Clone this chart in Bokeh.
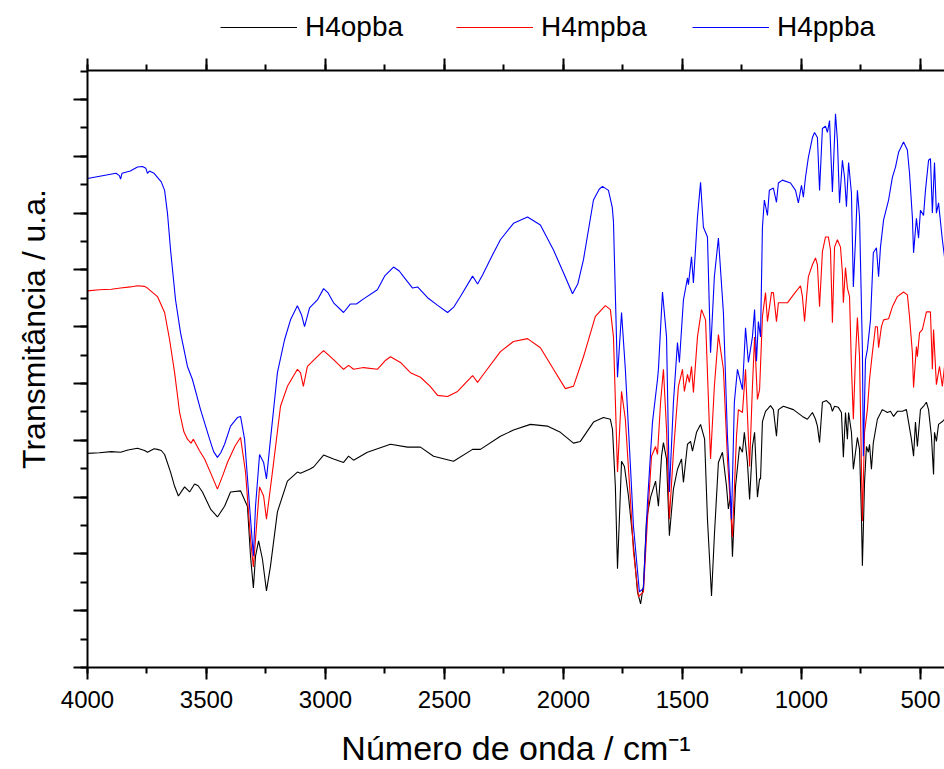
from bokeh.plotting import figure
from bokeh.layouts import column
from bokeh.models import (Range1d, LinearAxis, SingleIntervalTicker, Legend,
                          LegendItem, CustomJSTickFormatter)
from bokeh.embed import file_html
from bokeh.resources import INLINE

# ---------------- data ----------------
series_names = ["H4opba", "H4mpba", "H4ppba"]
series_colors = ["#000000", "#ff0000", "#0000ff"]

x_ticks_step = 500
x_title = "Número de onda / cm\u207b\u00b9"
y_title = "Transmitância / u.a."

opba_wn = [4000, 3950, 3900, 3861, 3830, 3790, 3760, 3748, 3720, 3706, 3690, 3676, 3651, 3634,
           3618, 3605, 3592, 3571, 3550, 3535, 3517, 3483, 3454, 3424, 3399, 3357, 3328, 3315,
           3303, 3294, 3281, 3265, 3248, 3231, 3202, 3160, 3118, 3105, 3067, 3050, 3008, 2966,
           2924, 2903, 2882, 2824, 2727, 2655, 2601, 2546, 2462, 2382, 2349, 2265, 2210, 2139,
           2068, 2013, 1958, 1929, 1874, 1832, 1803, 1794, 1782, 1773, 1756, 1744, 1727, 1710,
           1702, 1689, 1676, 1664, 1651, 1634, 1613, 1601, 1588, 1580, 1567, 1555, 1538, 1521,
           1504, 1496, 1479, 1466, 1458, 1441, 1424, 1407, 1395, 1378, 1366, 1349, 1332, 1315,
           1307, 1298, 1290, 1277, 1260, 1248, 1240, 1227, 1218, 1206, 1197, 1185, 1176, 1172,
           1164, 1151, 1130, 1118, 1105, 1097, 1076, 1034, 996, 975, 954, 941, 933, 924, 912,
           895, 878, 870, 861, 845, 832, 824, 815, 807, 802, 790, 782, 765, 756, 748, 744, 735,
           727, 719, 714, 706, 698, 681, 660, 639, 626, 613, 597, 576, 559, 550, 538, 529, 521,
           513, 500, 487, 475, 466, 454, 445, 441, 433, 424, 408, 399]
opba_t = [3.77, 3.78, 3.80, 3.79, 3.83, 3.86, 3.82, 3.79, 3.85, 3.84, 3.82, 3.75, 3.44, 3.19,
          3.02, 3.10, 3.18, 3.09, 3.23, 3.20, 3.09, 2.79, 2.65, 2.84, 3.09, 3.11, 2.84, 1.96,
          1.40, 1.96, 2.23, 1.91, 1.35, 1.79, 2.74, 3.28, 3.44, 3.42, 3.49, 3.53, 3.74, 3.67,
          3.61, 3.72, 3.65, 3.79, 3.93, 3.88, 3.88, 3.72, 3.63, 3.84, 3.84, 4.07, 4.18, 4.28,
          4.25, 4.14, 3.95, 3.98, 4.32, 4.40, 4.37, 4.19, 3.19, 1.74, 3.63, 3.54, 3.02, 2.32,
          1.96, 1.33, 1.12, 1.44, 2.61, 3.00, 3.28, 2.84, 3.72, 3.96, 3.67, 2.32, 3.14, 3.49,
          3.67, 3.26, 3.93, 3.98, 3.81, 4.14, 4.28, 4.02, 2.61, 1.26, 2.32, 3.61, 3.79, 3.19,
          2.79, 3.02, 1.95, 3.19, 3.89, 3.79, 4.14, 3.61, 2.96, 3.89, 4.14, 3.00, 3.32, 3.32,
          4.33, 4.51, 4.61, 4.54, 4.07, 4.54, 4.60, 4.54, 4.42, 4.37, 4.49, 4.37, 4.25, 3.96, 4.67,
          4.70, 4.63, 4.51, 4.60, 4.58, 4.49, 3.70, 4.49, 4.02, 4.49, 4.14, 3.49, 4.05, 3.84, 2.67, 1.79, 3.26,
          3.89, 3.79, 3.93, 3.49, 3.96, 4.37, 4.54, 4.49, 4.51, 4.42, 4.51, 4.51, 4.54, 4.32, 4.02, 3.72, 4.32,
          3.89, 4.54, 4.60, 4.67, 4.54, 4.07, 3.40, 4.14, 3.98, 4.28, 4.33, 4.37]

mpba_wn = [4000, 3950, 3900, 3861, 3820, 3790, 3760, 3748, 3706, 3676, 3655, 3634, 3613, 3595,
           3580, 3565, 3555, 3530, 3508, 3480, 3454, 3430, 3412, 3380, 3357, 3336, 3315, 3303,
           3294, 3277, 3260, 3248, 3223, 3189, 3160, 3118, 3105, 3093, 3076, 3040, 3008, 2966,
           2924, 2903, 2882, 2840, 2782, 2750, 2727, 2685, 2643, 2601, 2560, 2529, 2487, 2445,
           2382, 2361, 2340, 2265, 2210, 2151, 2097, 2042, 1992, 1958, 1916, 1866, 1824, 1803,
           1790, 1773, 1756, 1740, 1718, 1706, 1685, 1664, 1647, 1630, 1613, 1605, 1592, 1580,
           1567, 1555, 1538, 1517, 1500, 1492, 1479, 1471, 1462, 1454, 1437, 1420, 1403, 1382,
           1366, 1349, 1328, 1311, 1290, 1273, 1265, 1248, 1235, 1218, 1206, 1197, 1185, 1176,
           1164, 1151, 1143, 1126, 1118, 1105, 1097, 1059, 1034, 1004, 996, 987, 979, 971, 954,
           941, 933, 924, 912, 899, 887, 878, 870, 861, 849, 836, 828, 824, 815, 807, 798, 790,
           782, 773, 765, 756, 748, 744, 735, 723, 714, 702, 689, 681, 676, 664, 655, 634, 618,
           597, 571, 555, 546, 534, 529, 517, 513, 504, 492, 475, 458, 450, 445, 433, 420, 408, 399]
mpba_t = [6.63, 6.65, 6.66, 6.68, 6.70, 6.72, 6.71, 6.68, 6.53, 6.25, 5.77, 5.19, 4.49, 4.15,
          4.02, 3.95, 4.02, 3.82, 3.67, 3.40, 3.14, 3.40, 3.61, 3.90, 4.05, 3.44, 2.26, 1.77,
          2.26, 3.18, 3.02, 2.61, 3.44, 4.60, 4.95, 5.25, 5.19, 4.95, 5.30, 5.45, 5.58, 5.42,
          5.25, 5.32, 5.25, 5.28, 5.25, 5.40, 5.47, 5.37, 5.19, 5.11, 4.95, 4.79, 4.77, 4.86,
          5.14, 5.02, 5.14, 5.56, 5.74, 5.79, 5.63, 5.25, 4.91, 4.95, 5.47, 6.18, 6.37, 6.30,
          5.82, 3.44, 4.86, 4.37, 2.91, 2.04, 1.25, 1.33, 2.61, 3.72, 3.89, 3.75, 4.67, 5.25,
          4.19, 2.61, 3.79, 4.95, 5.25, 4.86, 5.16, 5.02, 5.30, 4.84, 5.82, 6.30, 6.12, 3.67,
          4.95, 5.86, 5.25, 3.67, 2.30, 4.07, 4.54, 4.49, 5.25, 3.54, 4.95, 5.82, 4.72, 4.89,
          6.18, 6.60, 6.09, 6.60, 6.60, 6.09, 6.42, 6.42, 6.56, 6.72, 6.53, 6.09, 6.51, 6.88, 7.09,
          7.21, 7.09, 6.35, 7.32, 7.58, 7.58, 7.35, 6.07, 7.40, 7.53, 7.40, 6.95, 6.42, 7.04, 6.68, 6.53, 5.30,
          4.37, 5.47, 6.16, 5.47, 3.54, 2.58, 4.14, 4.54, 5.07, 5.54, 6.00, 6.00, 5.63, 6.00, 6.12, 6.14, 6.35,
          6.53, 6.61, 6.56, 6.18, 5.54, 4.93, 5.65, 5.47, 5.89, 5.95, 6.26, 6.26, 5.25, 5.95, 4.98, 5.30, 4.95, 5.30]

ppba_wn = [4000, 3960, 3920, 3880, 3866, 3861, 3855, 3820, 3790, 3769, 3755, 3748, 3740, 3720,
           3706, 3690, 3676, 3664, 3651, 3630, 3609, 3580, 3559, 3525, 3487, 3470, 3454, 3440,
           3424, 3399, 3370, 3357, 3340, 3319, 3303, 3294, 3277, 3260, 3248, 3231, 3202, 3172,
           3147, 3118, 3100, 3088, 3067, 3034, 3008, 2990, 2966, 2924, 2895, 2870, 2840, 2782,
           2750, 2714, 2690, 2672, 2634, 2613, 2571, 2530, 2487, 2460, 2433, 2382, 2361, 2340,
           2300, 2265, 2210, 2151, 2097, 2042, 2000, 1962, 1940, 1916, 1874, 1850, 1836, 1811,
           1795, 1790, 1773, 1756, 1740, 1718, 1706, 1681, 1664, 1647, 1626, 1605, 1601, 1584,
           1567, 1555, 1538, 1521, 1513, 1496, 1479, 1475, 1462, 1454, 1437, 1424, 1412, 1395,
           1382, 1366, 1349, 1328, 1311, 1294, 1282, 1269, 1248, 1235, 1223, 1206, 1197, 1189,
           1181, 1172, 1164, 1156, 1143, 1135, 1118, 1105, 1097, 1080, 1046, 1025, 1013, 1000,
           992, 983, 971, 954, 945, 933, 924, 912, 899, 891, 882, 870, 857, 849, 840, 828, 819,
           811, 802, 790, 782, 773, 765, 756, 744, 740, 731, 723, 710, 698, 685, 676, 668, 655,
           634, 618, 605, 592, 571, 555, 546, 534, 529, 517, 508, 500, 487, 479, 466, 458, 450,
           441, 433, 424, 408, 399]
ppba_t = [8.61, 8.64, 8.67, 8.70, 8.66, 8.60, 8.70, 8.74, 8.81, 8.82, 8.79, 8.70, 8.74, 8.70,
          8.63, 8.55, 8.40, 8.00, 7.35, 6.47, 5.89, 5.30, 5.07, 4.54, 4.02, 3.80, 3.70, 3.78,
          3.93, 4.25, 4.40, 4.42, 4.02, 2.84, 1.96, 2.84, 3.75, 3.61, 3.32, 4.02, 5.19, 5.77,
          6.12, 6.37, 6.20, 6.00, 6.33, 6.47, 6.67, 6.60, 6.42, 6.25, 6.40, 6.40, 6.49, 6.65,
          6.90, 7.05, 6.98, 6.88, 6.68, 6.70, 6.51, 6.38, 6.25, 6.35, 6.53, 6.89, 6.75, 6.91,
          7.25, 7.53, 7.82, 7.93, 7.79, 7.35, 6.95, 6.58, 6.75, 7.18, 8.23, 8.42, 8.47, 8.40,
          8.10, 7.85, 5.11, 6.25, 5.25, 3.49, 2.49, 1.33, 1.39, 2.91, 4.32, 5.07, 5.25, 6.61,
          5.82, 3.09, 4.67, 5.72, 5.37, 6.47, 6.86, 6.74, 7.23, 6.77, 7.93, 8.54, 7.75, 7.58,
          5.54, 6.88, 7.56, 6.25, 4.07, 2.61, 4.67, 5.25, 4.89, 5.98, 5.37, 5.82, 6.30, 5.39,
          6.09, 5.82, 7.75, 8.23, 7.96, 8.40, 8.44, 8.19, 8.53, 8.58, 8.53, 8.40, 8.18, 8.49,
          8.28, 8.63, 8.98, 9.33, 9.42, 9.33, 8.40, 9.49, 9.53, 9.42, 9.63, 8.37, 9.75, 9.28, 8.18, 8.93, 8.63,
          8.11, 8.89, 8.35, 6.70, 7.53, 8.40, 7.93, 5.60, 3.72, 5.42, 5.60, 6.12, 7.30, 7.39, 6.88, 7.40, 7.88,
          8.23, 8.63, 8.81, 9.07, 9.25, 9.11, 8.70, 7.93, 7.30, 7.91, 7.56, 8.05, 7.96, 8.40, 8.93, 8.96, 8.00,
          8.89, 8.00, 8.18, 7.53, 7.23]

series_wn = [opba_wn, mpba_wn, ppba_wn]
series_t = [opba_t, mpba_t, ppba_t]

# ---------------- layout ----------------
FONT = "Liberation Sans"
W, H = 944, 769
LEG_H = 45                      # strip above the plot that holds the legend

# legend strip: a figure of its own (its frame is aligned with the main plot's frame);
# it holds the same series, out of its visible range, only to key the legend
lf = figure(width=W, height=LEG_H, x_range=Range1d(0, 1), y_range=Range1d(0, 1),
            output_backend="svg", toolbar_location=None, title=None,
            x_axis_location=None, y_axis_location=None,
            min_border_left=0, min_border_right=0, min_border_top=0, min_border_bottom=0)
lf.xgrid.visible = False
lf.ygrid.visible = False
lf.outline_line_color = None
leg_renderers = [lf.line(wn, t, line_color=c, line_width=1.1)
                 for wn, t, c in zip(series_wn, series_t, series_colors)]
legend = Legend(items=[LegendItem(label=n, renderers=[r]) for n, r in zip(series_names, leg_renderers)],
                orientation="horizontal", location=(133, 2),
                label_text_font=FONT, label_text_font_size="28px", label_text_color="black",
                glyph_width=77, glyph_height=20, label_standoff=8, label_width=113, spacing=38,
                padding=0, margin=0, border_line_color=None, background_fill_alpha=0)
lf.add_layout(legend, "center")

# main plot
p = figure(width=W, height=H - LEG_H, x_range=Range1d(4000, 399), y_range=Range1d(0, 10.51),
           output_backend="svg", toolbar_location=None, title=None,
           x_axis_location=None, y_axis_location=None,
           min_border_left=87, min_border_right=0, min_border_top=70 - LEG_H, min_border_bottom=100)
p.xgrid.visible = False
p.ygrid.visible = False
p.outline_line_color = None
p.background_fill_color = "white"
p.border_fill_color = "white"


def style_axis(ax, out_major, out_minor):
    ax.axis_line_width = 2
    ax.axis_line_color = "black"
    ax.major_tick_line_width = 2
    ax.minor_tick_line_width = 2
    ax.major_tick_line_color = "black"
    ax.minor_tick_line_color = "black"
    ax.major_tick_in = 0
    ax.minor_tick_in = 0
    ax.major_tick_out = out_major
    ax.minor_tick_out = out_minor


bottom = LinearAxis(ticker=SingleIntervalTicker(interval=x_ticks_step, num_minor_ticks=2))
style_axis(bottom, 12, 6)
bottom.major_label_text_font = FONT
bottom.major_label_text_font_size = "24px"
bottom.major_label_text_color = "black"
bottom.major_label_standoff = 11
bottom.axis_label = x_title
bottom.axis_label_text_font = FONT
bottom.axis_label_text_font_size = "34px"
bottom.axis_label_text_font_style = "normal"
bottom.axis_label_text_color = "black"
bottom.axis_label_standoff = 18
p.add_layout(bottom, "below")

top = LinearAxis(ticker=SingleIntervalTicker(interval=x_ticks_step, num_minor_ticks=2),
                 formatter=CustomJSTickFormatter(code="return ''"))
style_axis(top, 12, 6)
top.major_label_standoff = 0
p.add_layout(top, "above")

left = LinearAxis(ticker=SingleIntervalTicker(interval=1, num_minor_ticks=2),
                  formatter=CustomJSTickFormatter(code="return ''"))
style_axis(left, 14, 7)
left.major_label_standoff = 0
# leading no-break spaces lift the centred title to where the reference has it
left.axis_label = "\u00a0" * 9 + y_title
left.axis_label_text_font = FONT
left.axis_label_text_font_size = "32px"
left.axis_label_text_font_style = "normal"
left.axis_label_text_color = "black"
left.axis_label_standoff = 22
p.add_layout(left, "left")

for wn, t, c in zip(series_wn, series_t, series_colors):
    p.line(wn, t, line_color=c, line_width=1.1)

page = column(lf, p, spacing=0)
open("out.html", "w").write(file_html(page, INLINE))
